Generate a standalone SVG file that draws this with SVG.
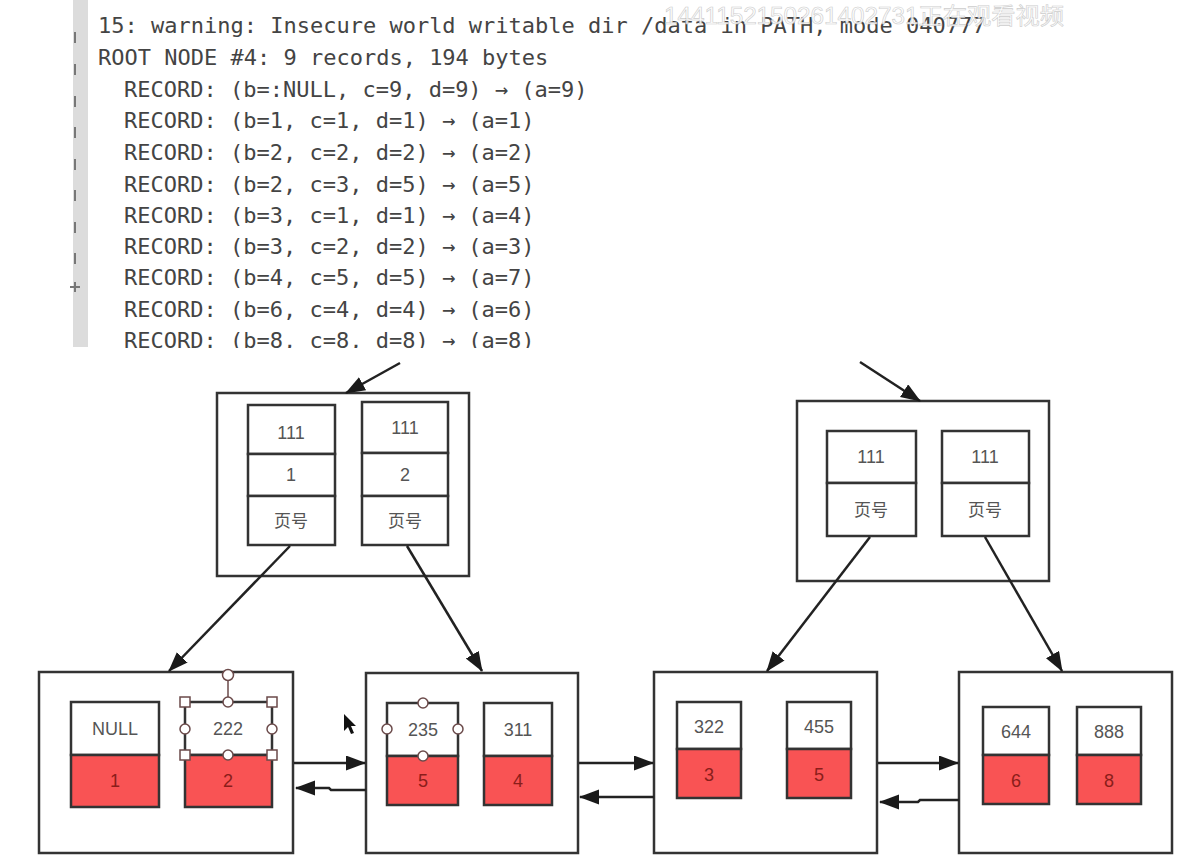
<svg xmlns="http://www.w3.org/2000/svg" width="1197" height="868" viewBox="0 0 1197 868">
<defs>
<marker id="ah" markerUnits="userSpaceOnUse" markerWidth="22" markerHeight="16" refX="19" refY="7.5" orient="auto">
<path d="M0,0 L20,7.5 L0,15 z" fill="#1a1a1a"/>
</marker>
<style>
.term{font-family:"DejaVu Sans Mono","Liberation Mono",monospace;font-size:22px;fill:#444;}
.box{fill:#fff;stroke:#333;stroke-width:2.5;}
.cell{fill:#fff;stroke:#333;stroke-width:2.5;}
.red{fill:#f95354;stroke:#333;stroke-width:2.5;}
.lbl{font-family:"Liberation Sans","Noto Sans CJK SC",sans-serif;font-size:18px;fill:#555;text-anchor:middle;}
.rl{font-family:"Liberation Sans",sans-serif;font-size:18px;fill:#8a1d1a;text-anchor:middle;}
.cn{font-family:"Noto Sans CJK SC",sans-serif;font-size:17px;fill:#555;text-anchor:middle;}
.edge{stroke:#222;stroke-width:2.5;fill:none;marker-end:url(#ah);}
.hs{fill:#fff;stroke:#6b4a4a;stroke-width:1.5;}
.tick{fill:#777;}
</style>
</defs>
<rect width="1197" height="868" fill="#fff"/>
<g id="terminal">
<rect x="73" y="0" width="15" height="347" fill="#dcdcdc"/>
<rect x="74" y="32" width="2" height="11" class="tick"/>
<rect x="74" y="64" width="2" height="11" class="tick"/>
<rect x="74" y="96" width="2" height="11" class="tick"/>
<rect x="74" y="127" width="2" height="11" class="tick"/>
<rect x="74" y="159" width="2" height="11" class="tick"/>
<rect x="74" y="190" width="2" height="11" class="tick"/>
<rect x="74" y="222" width="2" height="11" class="tick"/>
<rect x="74" y="253" width="2" height="11" class="tick"/>
<rect x="70" y="286" width="10" height="2" class="tick"/>
<rect x="74" y="282" width="2" height="10" class="tick"/>
<text class="term" x="98" y="33">15: warning: Insecure world writable dir /data in PATH, mode 040777</text>
<text class="term" x="98" y="65">ROOT NODE #4: 9 records, 194 bytes</text>
<text class="term" x="124" y="97">RECORD: (b=:NULL, c=9, d=9) → (a=9)</text>
<text class="term" x="124" y="128">RECORD: (b=1, c=1, d=1) → (a=1)</text>
<text class="term" x="124" y="160">RECORD: (b=2, c=2, d=2) → (a=2)</text>
<text class="term" x="124" y="192">RECORD: (b=2, c=3, d=5) → (a=5)</text>
<text class="term" x="124" y="223">RECORD: (b=3, c=1, d=1) → (a=4)</text>
<text class="term" x="124" y="254">RECORD: (b=3, c=2, d=2) → (a=3)</text>
<text class="term" x="124" y="285">RECORD: (b=4, c=5, d=5) → (a=7)</text>
<text class="term" x="124" y="317">RECORD: (b=6, c=4, d=4) → (a=6)</text>
<text class="term" x="124" y="348">RECORD: (b=8, c=8, d=8) → (a=8)</text>
<rect x="60" y="348" width="700" height="14" fill="#fff"/>
<text x="664" y="24" font-family="Liberation Sans,Noto Sans CJK SC,sans-serif" font-size="23" fill="#fff" stroke="#c8c8c8" stroke-width="0.6" opacity="0.9" textLength="400" lengthAdjust="spacingAndGlyphs">1441152150261402731正在观看视频</text>
</g>
<g id="root-left">
<rect class="box" x="217" y="393" width="252" height="183"/>
<rect class="cell" x="248" y="405" width="87" height="49"/>
<rect class="cell" x="248" y="454" width="87" height="42"/>
<rect class="cell" x="248" y="496" width="87" height="49"/>
<text class="lbl" x="291" y="439">111</text>
<text class="lbl" x="291" y="481">1</text>
<text class="cn" x="291" y="527">页号</text>
<rect class="cell" x="362" y="402" width="86" height="51"/>
<rect class="cell" x="362" y="453" width="86" height="43"/>
<rect class="cell" x="362" y="496" width="86" height="49"/>
<text class="lbl" x="405" y="434">111</text>
<text class="lbl" x="405" y="481">2</text>
<text class="cn" x="405" y="527">页号</text>
</g>
<g id="root-right">
<rect class="box" x="797" y="401" width="252" height="180"/>
<rect class="cell" x="827" y="431" width="89" height="52"/>
<rect class="cell" x="827" y="483" width="89" height="53"/>
<text class="lbl" x="871" y="463">111</text>
<text class="cn" x="871" y="516">页号</text>
<rect class="cell" x="942" y="431" width="87" height="52"/>
<rect class="cell" x="942" y="483" width="87" height="53"/>
<text class="lbl" x="985" y="463">111</text>
<text class="cn" x="985" y="516">页号</text>
</g>
<g id="leaf1">
<rect class="box" x="39" y="672" width="254" height="181"/>
<rect class="cell" x="71" y="702" width="88" height="53"/>
<rect class="red" x="71" y="755" width="88" height="52"/>
<text class="lbl" x="115" y="735">NULL</text>
<text class="rl" x="115" y="787">1</text>
<rect class="cell" x="185" y="702" width="87" height="53"/>
<rect class="red" x="185" y="755" width="87" height="52"/>
<text class="lbl" x="228" y="735">222</text>
<text class="rl" x="228" y="787">2</text>
<line x1="228" y1="675" x2="228" y2="702" stroke="#6b4a4a" stroke-width="1.5"/>
<circle class="hs" cx="228" cy="675" r="5.5"/>
<circle class="hs" cx="228" cy="702" r="5"/>
<circle class="hs" cx="185" cy="729" r="5"/>
<circle class="hs" cx="272" cy="729" r="5"/>
<circle class="hs" cx="228" cy="755" r="5"/>
<rect class="hs" x="180" y="697" width="10" height="10"/>
<rect class="hs" x="267" y="697" width="10" height="10"/>
<rect class="hs" x="180" y="750" width="10" height="10"/>
<rect class="hs" x="267" y="750" width="10" height="10"/>
</g>
<g id="leaf2">
<rect class="box" x="366" y="673" width="212" height="180"/>
<rect class="cell" x="387" y="703" width="71" height="53"/>
<rect class="red" x="387" y="756" width="71" height="49"/>
<text class="lbl" x="423" y="736">235</text>
<text class="rl" x="423" y="787">5</text>
<rect class="cell" x="484" y="703" width="68" height="53"/>
<rect class="red" x="484" y="756" width="68" height="49"/>
<text class="lbl" x="518" y="736">311</text>
<text class="rl" x="518" y="787">4</text>
<circle class="hs" cx="423" cy="703" r="5"/>
<circle class="hs" cx="387" cy="729" r="5"/>
<circle class="hs" cx="458" cy="729" r="5"/>
<circle class="hs" cx="423" cy="756" r="5"/>
</g>
<g id="leaf3">
<rect class="box" x="654" y="672" width="223" height="181"/>
<rect class="cell" x="677" y="702" width="64" height="47"/>
<rect class="red" x="677" y="749" width="64" height="49"/>
<text class="lbl" x="709" y="733">322</text>
<text class="rl" x="709" y="781">3</text>
<rect class="cell" x="787" y="702" width="64" height="47"/>
<rect class="red" x="787" y="749" width="64" height="49"/>
<text class="lbl" x="819" y="733">455</text>
<text class="rl" x="819" y="781">5</text>
</g>
<g id="leaf4">
<rect class="box" x="959" y="672" width="213" height="181"/>
<rect class="cell" x="983" y="707" width="66" height="48"/>
<rect class="red" x="983" y="755" width="66" height="49"/>
<text class="lbl" x="1016" y="738">644</text>
<text class="rl" x="1016" y="787">6</text>
<rect class="cell" x="1077" y="707" width="64" height="48"/>
<rect class="red" x="1077" y="755" width="64" height="49"/>
<text class="lbl" x="1109" y="738">888</text>
<text class="rl" x="1109" y="787">8</text>
</g>
<g id="connectors">
<line class="edge" x1="400" y1="363" x2="346" y2="393"/>
<line class="edge" x1="860" y1="362" x2="920" y2="401"/>
<line class="edge" x1="290" y1="546" x2="169" y2="671"/>
<line class="edge" x1="407" y1="546" x2="482" y2="671"/>
<line class="edge" x1="870" y1="537" x2="767" y2="671"/>
<line class="edge" x1="985" y1="537" x2="1062" y2="671"/>
<line class="edge" x1="294" y1="763" x2="365" y2="763"/>
<polyline class="edge" points="366,790 331,790 329,788 296,788"/>
<line class="edge" x1="579" y1="763" x2="653" y2="763"/>
<line class="edge" x1="654" y1="797" x2="580" y2="797"/>
<line class="edge" x1="878" y1="763" x2="958" y2="763"/>
<polyline class="edge" points="959,800 920,800 918,802 880,802"/>
</g>
<polygon points="344,714 344,731 348,727 351,734 354,733 351,726 356,726" fill="#111"/>
</svg>
